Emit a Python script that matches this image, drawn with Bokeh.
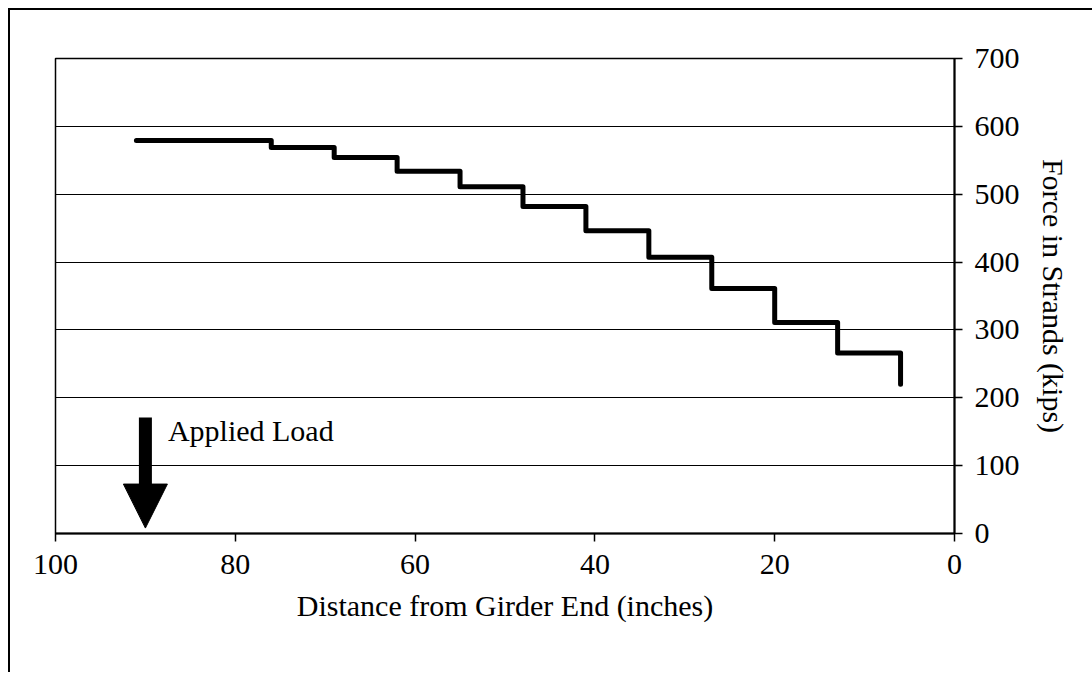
from bokeh.plotting import figure
from bokeh.models import Range1d, FixedTicker, Arrow, NormalHead, Label
from bokeh.embed import file_html
from bokeh.resources import INLINE

# ---- data ----
step_edges = [91, 76, 69, 62, 55, 48, 41, 34, 27, 20, 13, 6]   # inches from girder end
step_force = [579, 569, 554, 534, 511, 482, 446, 407, 361, 311, 266]  # kips on each segment
end_force = 220                                                 # kips at last point
x_ticks = [0, 20, 40, 60, 80, 100]
y_ticks = [0, 100, 200, 300, 400, 500, 600, 700]
load_x = 90          # applied load position (inches)
load_top = 171       # arrow top (kips scale)
load_tip = 8         # arrow tip (kips scale)
load_label = "Applied Load"
label_x, label_y = 87.5, 152

FONT = "Liberation Serif"

# build stepped path from the arrays
xs, ys = [], []
for i, f in enumerate(step_force):
    xs += [step_edges[i], step_edges[i + 1]]
    ys += [f, f]
xs.append(step_edges[-1])
ys.append(end_force)

p = figure(width=1092, height=679, output_backend="svg", toolbar_location=None,
           x_range=Range1d(100, 0), y_range=Range1d(0, 700),
           y_axis_location="right",
           min_border_left=55, min_border_top=58, min_border_right=138, min_border_bottom=146)

p.border_fill_color = None
p.background_fill_color = "white"
p.styles = {
    "background": "linear-gradient(#000,#000) 8px 8px / 2px 664px no-repeat, "
                  "linear-gradient(#000,#000) 8px 8px / 1084px 2px no-repeat",
}
p.outline_line_color = "black"
p.outline_line_width = 1.5

p.xgrid.visible = False
p.ygrid.grid_line_color = "black"
p.ygrid.grid_line_width = 1
p.ygrid.ticker = FixedTicker(ticks=y_ticks)

for ax in (p.xaxis[0], p.yaxis[0]):
    ax.axis_line_color = "black"
    ax.axis_line_width = 2
    ax.major_tick_line_color = "black"
    ax.major_tick_line_width = 1.5
    ax.major_tick_out = 8
    ax.major_tick_in = 0
    ax.minor_tick_line_color = None
    ax.major_label_text_font = FONT
    ax.major_label_text_font_size = "30px"
    ax.major_label_text_color = "black"
    ax.axis_label_text_font = FONT
    ax.axis_label_text_font_size = "30px"
    ax.axis_label_text_font_style = "normal"
    ax.axis_label_text_color = "black"

p.xaxis.ticker = FixedTicker(ticks=x_ticks)
p.yaxis.ticker = FixedTicker(ticks=y_ticks)
p.xaxis.axis_label = "Distance from Girder End (inches)"
p.yaxis.axis_label = "Force in Strands (kips)"
p.xaxis.major_label_standoff = 13
p.yaxis.major_label_standoff = 12
p.xaxis.axis_label_standoff = 12
p.yaxis.axis_label_standoff = 14

p.line(xs, ys, line_color="black", line_width=5, line_join="round", line_cap="round")

p.add_layout(Arrow(end=NormalHead(size=44, fill_color="black", line_color="black", line_width=1),
                   x_start=load_x, y_start=load_top, x_end=load_x, y_end=load_tip,
                   line_color="black", line_width=13))
p.add_layout(Label(x=label_x, y=label_y, text=load_label, text_font=FONT,
                   text_font_size="30px", text_color="black", text_baseline="alphabetic"))

open("out.html", "w").write(file_html(p, INLINE))
